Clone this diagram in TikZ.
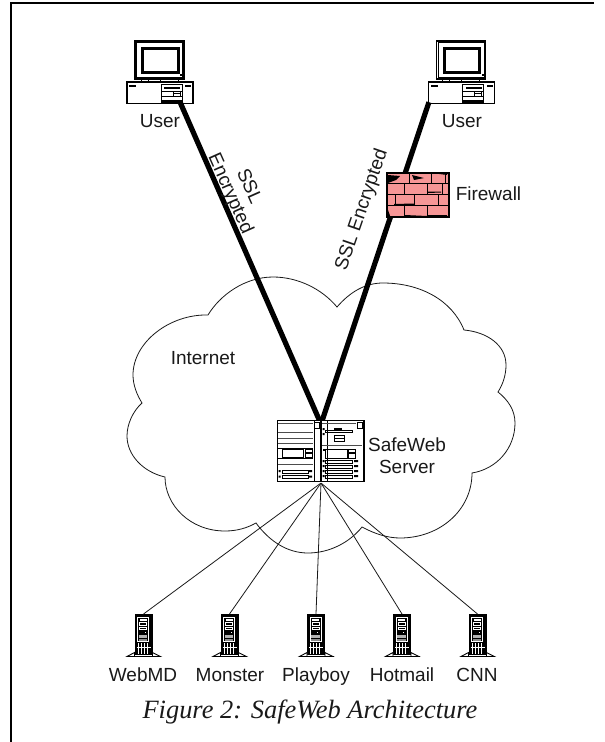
\documentclass[tikz,border=0pt]{standalone}
\usepackage{fontspec}
\setmainfont{Liberation Sans}
\newfontfamily\capfont{Liberation Serif}
\tikzset{
  x=1pt,y=-1pt,
  lab/.style={inner sep=0pt,align=center,font=\fontsize{19}{21.5}\selectfont,text=black!90},
  baselab/.style={lab,anchor=base},
  thickline/.style={line width=5.2pt,black},
  thinline/.style={line width=0.8pt,black!90},
  anchorbox/.style={inner sep=0pt,minimum size=0pt,draw=none},
  pc/.pic={
    % monitor (origin = monitor top-left)
    \draw[line width=1.1pt,fill=white] (0,0) rectangle (49,38);
    \draw[line width=0.6pt] (1.6,1.6) rectangle (47.4,36);
    \draw[line width=3pt,fill=white] (7.5,7) rectangle (43,31);
    \fill (45,33) rectangle (47,35);
    \foreach \t in {6,13,25,43} \draw[line width=0.8pt] (\t,38) -- (\t,41);
    % base
    \draw[line width=1.1pt,fill=white] (-8,41) rectangle (58,62.5);
    \fill (-6,43.5) rectangle (1,46);
    \fill (50,43.5) rectangle (56,46);
    \draw[line width=0.8pt] (26,43) rectangle (47,61);
    \fill (29,45.5) rectangle (45,47.5);
    \draw[line width=0.5pt] (26,50) -- (47,50) (26,55.5) -- (47,55.5);
    \draw[line width=0.5pt] (38,50) rectangle (45,55.5) (38,52.7) -- (45,52.7);
    \fill (26,59) rectangle (47,61);
    \coordinate (-base) at (25,62.5);
  },
  towerbox/.pic={
    % origin = top centre of the tower
    \fill (-9,0) rectangle (9,41);
    \fill[white] (-6.5,3) rectangle (5.5,27.5);
    \fill (-5.5,4) rectangle (4.5,26.5);
    \fill[white] (-4,5) rectangle (3,6.5);
    \draw[white,line width=0.5pt] (-4,8) rectangle (3,11) (-4,13) rectangle (3,15.5);
    \fill[white] (1,18) rectangle (2,19);
    \fill[black!30] (-5,21) rectangle (3.5,24);
    \fill[black!45] (-5,24.5) rectangle (3.5,26.5);
    \foreach \t in {-5.5,-2.5,0.5,3.5}
      \draw[white,line width=0.4pt] (\t,29) -- (\t,40);
    \draw[white,line width=0.4pt] (-7,33) -- (7,33);
    \draw[line width=0.9pt,fill=white] (-16.5,42.5) -- (-9,38.5) -- (-9,42.5) -- cycle;
    \draw[line width=0.9pt,fill=white] (17,42.5) -- (9,38.5) -- (9,42.5) -- cycle;
    \draw[line width=1.3pt] (-17,42.8) -- (17.5,42.8);
    \coordinate (-top) at (0,0);
  }
}
\begin{document}
\begin{tikzpicture}
\useasboundingbox (0,0) rectangle (605,742);
% page frame
\draw[line width=2pt,black] (11,742) -- (11,3) -- (594,3);
% cloud
\draw[line width=0.8pt,black!90]
 (208,315) .. controls (170,314) and (133,342) .. (133,375)
 .. controls (133,385) and (137,395) .. (142,403)
 .. controls (133,411) and (127,424) .. (127,436)
 .. controls (127,455) and (143,472) .. (165,477)
 .. controls (165,505) and (190,531) .. (225,531)
 .. controls (237,531) and (247,528) .. (256,523)
 .. controls (270,542) and (288,553) .. (308,553)
 .. controls (330,553) and (350,542) .. (362,527)
 .. controls (375,534) and (388,538) .. (400,538)
 .. controls (440,538) and (472,510) .. (472,473)
 .. controls (497,469) and (515,448) .. (515,423)
 .. controls (515,410) and (508,400) .. (498,392)
 .. controls (503,384) and (506,375) .. (506,365)
 .. controls (506,345) and (487,332) .. (464,330)
 .. controls (452,300) and (420,283) .. (383,283)
 .. controls (365,283) and (350,292) .. (337,307)
 .. controls (322,289) and (298,277) .. (273,277)
 .. controls (245,277) and (220,295) .. (208,315) -- cycle;
% users
\pic (ul) at (135,41) {pc};
\pic (ur) at (436.5,41) {pc};
\coordinate (urport) at (429,102);
\node[anchorbox] (userlport) at (180,102) {};
\node[anchorbox] (userrport) at (urport) {};
% safeweb server
\node[anchorbox,minimum width=87pt,minimum height=62pt] (srv) at (320.5,451) {};
\node[anchorbox] (srvtop) at (321,424) {};
\node[anchorbox] (srvbot) at (321,483) {};
% towers
\foreach \n/\x in {web/143.5,mon/229.5,pla/316,hot/402,cnn/477.5}{
  \pic (\n) at (\x,614) {towerbox};
}
% thick links
\draw[thickline] (userlport) -- (srvtop);
\draw[thickline] (userrport) -- (srvtop);
% server drawing
\begin{scope}
\fill[white] (277,420) rectangle (364,482);
\draw[line width=1.6pt] (277.5,420.5) rectangle (364,481.5);
\draw[line width=1.6pt] (321,420) -- (321,482);
\draw[line width=0.7pt] (314,421) -- (314,481) (327,421) -- (327,481);
\draw[line width=0.7pt] (314,422) rectangle (319.5,428) (357,422) rectangle (362,428);
% left unit
\draw[black!70,line width=0.8pt] (278,423) -- (313,423) (278,432) -- (313,432);
\draw[black!70,line width=0.8pt] (278,438) -- (313,438) (278,443) -- (313,443);
\draw[line width=0.7pt] (278,448) -- (313,448);
\draw[line width=0.7pt] (282,449) rectangle (303,457.5) (305,449) rectangle (312,457.5);
\fill (305,452) rectangle (312,453.5);
\draw[line width=0.7pt] (278,458) -- (313,458);
\draw[black!70,line width=0.8pt] (278,464) -- (313,464);
\draw[line width=0.7pt] (282,470) rectangle (308,473.5) (282,475) rectangle (308,478.5);
\fill (278.5,470) rectangle (280.5,472) (278.5,475.5) rectangle (280.5,477.5)
      (309,470) rectangle (312,472) (309,475.5) rectangle (312,477.5);
% right unit
\draw[black!70,line width=0.8pt] (322,423) -- (356,423);
\draw[line width=0.7pt] (325,430) rectangle (352,432.5);
\fill (334,428) rectangle (342,430);
\fill (322.5,428) rectangle (324.5,430) (322.5,433) rectangle (324.5,435);
\draw[line width=0.7pt] (334,435) rectangle (344,441) (334,438) -- (344,438);
\draw[black!70,line width=0.8pt] (322,445) -- (362,445);
\draw[line width=0.7pt] (325,449) rectangle (347,458) (348,449) rectangle (355,458);
\fill (348,452) rectangle (355,453.5);
\fill (322.5,449) rectangle (324.5,451);
\foreach \yy in {460,465,470,475}{
  \draw[line width=0.7pt] (325,\yy) rectangle (352,\yy+3);
  \fill (322.5,\yy) rectangle (324.5,\yy+2) (354,\yy) rectangle (358,\yy+2);
}
\end{scope}
% thin links
\foreach \n in {web,mon,pla,hot,cnn}
  \draw[thinline] (srvbot) -- (\n-top);
% firewall
\node[anchorbox,minimum width=62pt,minimum height=44pt,fill={rgb,255:red,246;green,150;blue,150},draw=black,line width=1.2pt] (fw) at (418,195) {};
\draw[line width=0.8pt,black]
 (387,183) -- (449,183) (387,194) -- (449,194) (387,205) -- (449,205)
 (409,173) -- (409,183) (431,173) -- (431,183) (445,173) -- (445,183)
 (404,183) -- (404,194) (427,183) -- (427,194) (442,183) -- (442,194)
 (395,194) -- (395,205) (414,194) -- (414,205) (438,194) -- (438,205)
 (404,205) -- (404,217) (427,205) -- (427,217);
\fill (388,175) -- (400,176) -- (396,180) -- (388,183) -- cycle;
\fill (394,204) -- (414,203.5) -- (414,205) -- (394,205.5) -- cycle;
\fill (388,210) -- (390.5,217) -- (388,217) -- cycle;
\fill (412,175) -- (424,178) -- (414,180) -- cycle;
\fill (405,215) -- (427,216) -- (405,217) -- cycle;
\fill (432,173) -- (447,174) -- (447,175) -- cycle;
\fill (428,191.5) -- (441,191.5) -- (441,192.5) -- (428,193) -- cycle;
\fill (428,215) -- (447,215) -- (447,217) -- (428,216.5) -- cycle;
% labels
\node[baselab] (ulab) at (160,127.5) {User};
\node[baselab] (urlab) at (462,127.5) {User};
\node[baselab] (fwlab) at (488.5,200.5) {Firewall};
\node[baselab] (inet) at (203,364.5) {Internet};
\node[lab] (sw) at (407,455.5) {SafeWeb\\Server};
\node[lab,rotate=-66] (ssl1) at (250,186) {SSL};
\node[lab,rotate=-66] (ssl2) at (230,194) {Encrypted};
\node[lab,rotate=71] (ssl3) at (362,210) {SSL Encrypted};
\node[baselab] (lweb) at (143,681.5) {WebMD};
\node[baselab] (lmon) at (230,681.5) {Monster};
\node[baselab] (lpla) at (316,681.5) {Playboy};
\node[baselab] (lhot) at (402,681.5) {Hotmail};
\node[baselab] (lcnn) at (477,681.5) {CNN};
\node[inner sep=0pt,font=\capfont\itshape\fontsize{26.4}{30}\selectfont,text=black!90] (cap) at (310,712) {Figure 2: SafeWeb Architecture};
\end{tikzpicture}
\end{document}
